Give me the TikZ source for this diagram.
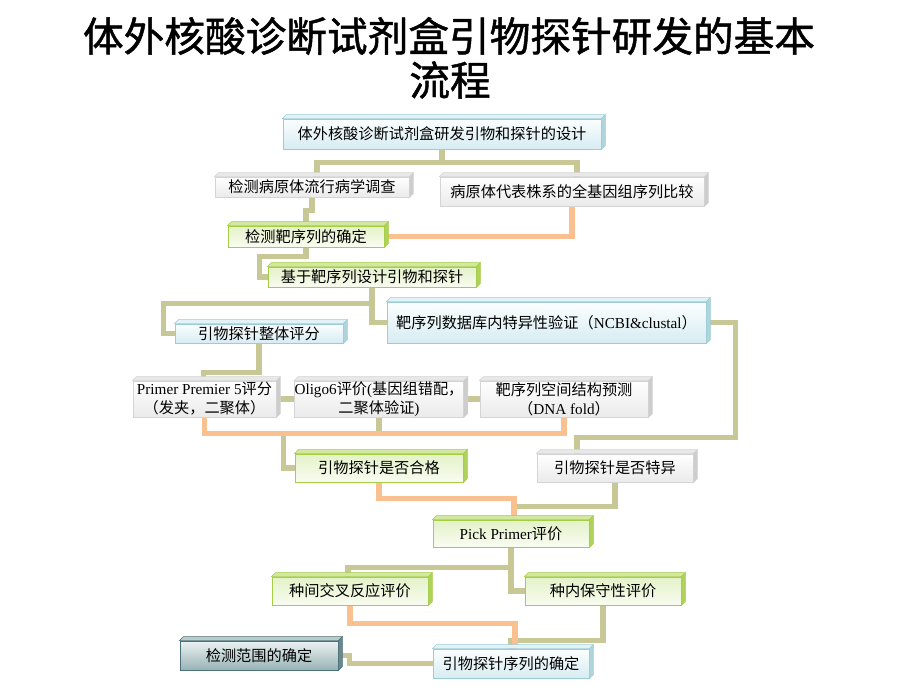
\documentclass[tikz,border=0pt]{standalone}
\usepackage{fontspec}
\setmainfont{Liberation Serif}
\newfontfamily\cjk{Noto Sans CJK SC}
\newfontfamily\cjktitle[FakeBold=1.2]{Noto Sans CJK SC}
\usetikzlibrary{calc}
\pgfdeclarelayer{bg}
\pgfsetlayers{bg,main}
\definecolor{olv}{RGB}{200,200,150}
\definecolor{org}{RGB}{250,192,143}
\definecolor{bluebd}{RGB}{155,205,215}
\definecolor{bluetop}{RGB}{252,254,254}
\definecolor{bluebot}{RGB}{214,236,242}
\definecolor{blueside}{RGB}{175,212,220}
\definecolor{bluelid}{RGB}{226,242,246}
\definecolor{greenbd}{RGB}{165,205,70}
\definecolor{greentop}{RGB}{228,242,200}
\definecolor{greenbot}{RGB}{248,252,240}
\definecolor{greenside}{RGB}{175,210,90}
\definecolor{greenlid}{RGB}{210,232,160}
\definecolor{graybd}{RGB}{212,212,212}
\definecolor{graytop}{RGB}{255,255,255}
\definecolor{graybot}{RGB}{234,234,234}
\definecolor{grayside}{RGB}{205,205,205}
\definecolor{graylid}{RGB}{232,232,232}
\definecolor{darkbd}{RGB}{75,112,118}
\definecolor{darktop}{RGB}{236,243,243}
\definecolor{darkbot}{RGB}{152,178,180}
\definecolor{darkside}{RGB}{105,135,140}
\definecolor{darklid}{RGB}{185,205,205}
\newcommand\lat[1]{{\rmfamily #1}}
\newcommand\mybox[7]{%
  \node[#2, minimum width={(#5-#3-4)*0.75pt}, minimum height={(#6-#4-4)*0.75pt}]
    (#1) at ({(#3+#5-4)/2},{(#4+4+#6)/2}) {#7};}
\newcommand\mybevel[2]{%
  \fill[#2lid, draw=#2bd, line width=0.4pt] (#1.north west) -- ++(4,-4) -- ($(#1.north east)+(4,-4)$) -- (#1.north east) -- cycle;
  \fill[#2side, draw=#2bd, line width=0.4pt] (#1.north east) -- ++(4,-4) -- ($(#1.south east)+(4,-4)$) -- (#1.south east) -- cycle;}
\tikzset{
  conn/.style={line width=4pt, line join=miter},
  olive/.style={conn, draw=olv},
  orange/.style={conn, draw=org},
  box/.style={inner sep=0pt, align=center, line width=0.7pt,
    font=\cjk\fontsize{11.4}{14.2}\selectfont},
  bluebox/.style={box, draw=bluebd, top color=bluetop, bottom color=bluebot},
  greenbox/.style={box, draw=greenbd, top color=greentop, bottom color=greenbot},
  graybox/.style={box, draw=graybd, top color=graytop, bottom color=graybot},
  darkbox/.style={box, draw=darkbd, top color=darktop, bottom color=darkbot},
  titletext/.style={font=\cjktitle\fontsize{30.5}{36}\selectfont, inner sep=0pt}
}
\begin{document}
\begin{tikzpicture}[x=0.75pt,y=-0.75pt]
\useasboundingbox (0,0) rectangle (920,690);
\node[titletext] (t1) at (449,36) {体外核酸诊断试剂盒引物探针研发的基本};
\node[titletext] (t2) at (450,80) {流程};

\mybox{top}{bluebox}{283}{115}{605}{149}{体外核酸诊断试剂盒研发引物和探针的设计}
\mybox{epi}{graybox}{215}{173}{413}{197}{检测病原体流行病学调查}
\mybox{genome}{graybox}{440}{173}{708}{206}{病原体代表株系的全基因组序列比较}
\mybox{target}{greenbox}{228}{222}{388}{247}{检测靶序列的确定}
\mybox{design}{greenbox}{268}{263}{480}{287}{基于靶序列设计引物和探针}
\mybox{score}{bluebox}{175}{320}{347}{343}{引物探针整体评分}
\mybox{ncbi}{bluebox}{387}{298}{710}{343}{靶序列数据库内特异性验证（\lat{NCBI\&clustal}）}
\mybox{pp5}{graybox}{133}{377}{280}{417}{\lat{Primer Premier 5}评分\\（发夹，二聚体）}
\mybox{oligo}{graybox}{295}{377}{467}{417}{\lat{Oligo6}评价\lat{(}基因组错配，\\二聚体验证\lat{)}}
\mybox{fold}{graybox}{480}{377}{652}{417}{靶序列空间结构预测\\（\lat{DNA fold}）}
\mybox{qual}{greenbox}{295}{450}{467}{482}{引物探针是否合格}
\mybox{spec}{graybox}{537}{450}{697}{482}{引物探针是否特异}
\mybox{pick}{greenbox}{433}{516}{593}{547}{\lat{Pick Primer}评价}
\mybox{inter}{greenbox}{272}{573}{432}{605}{种间交叉反应评价}
\mybox{intra}{greenbox}{525}{573}{685}{605}{种内保守性评价}
\mybox{seq}{bluebox}{433}{645}{593}{678}{引物探针序列的确定}
\mybox{range}{darkbox}{180}{637}{342}{670}{检测范围的确定}

\mybevel{top}{blue}
\mybevel{epi}{gray}
\mybevel{genome}{gray}
\mybevel{target}{green}
\mybevel{design}{green}
\mybevel{score}{blue}
\mybevel{ncbi}{blue}
\mybevel{pp5}{gray}
\mybevel{oligo}{gray}
\mybevel{fold}{gray}
\mybevel{qual}{green}
\mybevel{spec}{gray}
\mybevel{pick}{green}
\mybevel{inter}{green}
\mybevel{intra}{green}
\mybevel{seq}{blue}
\mybevel{range}{dark}

\begin{pgfonlayer}{bg}
\fill[white] (0,0) rectangle (920,690);
% olive connectors
\draw[olive] ($(epi.north)+(5,0)$) |- ($(top.south)+(0,13)$) -- (top.south);
\draw[olive] ($(genome.north)+(5,0)$) |- ($(top.south)+(0,13)$);
\draw[olive] (epi.south) -- ++(0,13) -| (target.north);
\draw[olive] (target.south) -- ++(0,9) -| ($(design.west)+(-8,0)$) -- (design.west);
\draw[olive] (design.south) -- ++(0,16) coordinate (j4) -| ($(score.west)+(-11,0)$) -- (score.west);
\draw[olive] (j4) |- (ncbi.west);
\draw[olive] (score.south) -- ++(0,29) -| ($(pp5.north)+(-1,0)$);
\draw[olive] (pp5.east) -- (oligo.west);
\draw[olive] (oligo.east) -- (fold.west);
\draw[olive] (oligo.south) -- ++(0,16);
\draw[olive] ($(pp5.south)+(79,16)$) |- (qual.west);
\draw[olive] (ncbi.east) -- ++(29,0) |- ($(spec.north)+(-38,-16)$) -- ($(spec.north)+(-38,0)$);
\draw[olive] (spec.south) |- ($(pick.north)+(3,-13)$);
\draw[olive] (pick.south) -- ++(0,20) coordinate (j11) -| ($(inter.north)+(-2,0)$);
\draw[olive] (j11) |- (intra.west);
\draw[olive] (intra.south) -- ++(0,35) -| (seq.north);
\draw[olive] (range.east) -- ++(11,0) |- (seq.west);
% orange connectors
\draw[orange] (genome.south) |- (target.east);
\draw[orange] (pp5.south) -- ++(0,16) -| (fold.south);
\draw[orange] (qual.south) -- ++(0,16) -| ($(pick.north)+(3,0)$);
\draw[orange] (inter.south) -- ++(0,18) -| ($(seq.north)+(4,0)$);
\end{pgfonlayer}
\end{tikzpicture}
\end{document}
